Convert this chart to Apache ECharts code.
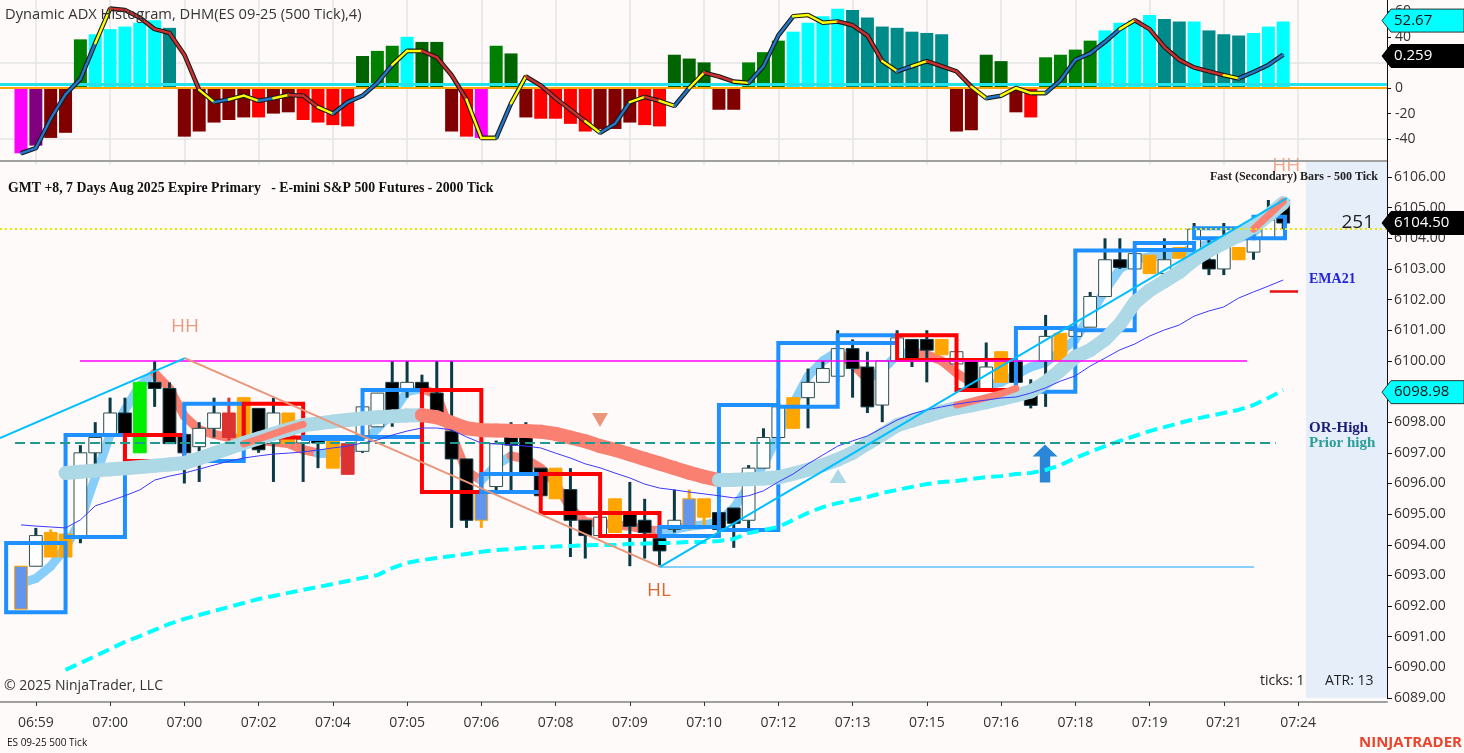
<!DOCTYPE html>
<html>
<head>
<meta charset="utf-8">
<title>Dynamic ADX Histogram - ES 09-25</title>
<script src="https://cdn.jsdelivr.net/npm/echarts@6.0.0/dist/echarts.min.js"></script>
<style>
html,body{margin:0;padding:0;background:#fffafa;overflow:hidden;}
#chart{width:1464px;height:753px;}
</style>
</head>
<body>
<div id="chart"></div>
<script>
// ================= DATA =================
const timeLabels = ['06:59','07:00','07:00','07:02','07:04','07:05','07:06','07:08','07:09','07:10','07:12','07:13','07:15','07:16','07:18','07:19','07:21','07:24'];
const timeTickIdx = [1,6,11,16,21,26,31,36,41,46,51,56,61,66,71,76,81,86];

// Dynamic ADX histogram (500 tick)
const dhmHist = [-51,-45,-39,-35,38,42,46,48,51,53,47,-38,-34,-27,-25,-23,-23,-20,-19,-25,-27,-29,-30,25,29,33,40,36,36,-34,-38,-39,33,27,-23,-24,-24,-28,-34,-32,-32,-27,-29,-30,26,23,20,-17,-17,20,28,37,44,51,56,62,61,55,48,47,44,43,42,-34,-33,26,21,-19,-23,24,26,30,37,45,51,53,57,54,52,52,45,42,41,43,48,52];
const dhmState = ['DA','DF','DW','DW','U','UA','UA','UA','UA','UA',
  'UF','DW','DW','DW','DW','DW','D','DW','DW','D',
  'D','D','D','UW','U','U','UA','UW','UW','DW',
  'D','DA','U','UW','DW','D','D','D','D','DW',
  'DW','DW','D','D','UW','UW','UW','DW','DW','U',
  'U','U','UA','UA','UA','UA','UF','UF','UF','UF',
  'UF','UF','UF','DW','DW','UW','UW','DW','D','U',
  'U','U','U','UA','UA','UA','UA','UF','UF','UA',
  'UF','UF','UF','UA','UA','UA'];
const dhmLine = [-51,-47,-24,-5,7,35,62,61,55,46,43,26,-1.5,-11,-9,-6,-10,-8,-5.5,-6,-15,-20,-11,-6,4,18,29,29,24,10,-9,-39,-39,-12,9,2,-8,-17,-26,-35,-28,-11,-7,-10,-14,0,12,9,5,4,17,41,56,57,51,52,49,41,21,13,17,21,17,13,1,-8,-6,0,-4,-4,6,22,27,36,46,53,46,32,22,16,13,10,7.5,12.5,18,26];
const dhmSignalLevel = 3.2;
const dhmBadges = [{value:52.67, text:'52.67'}, {value:25, text:'0.259'}];

// Price candles (500 tick)
const candleOpen  = [6091.9,6093.3,6093.6,6093.6,6094.3,6097.0,6097.6,6098.3,6097.0,6099.3,6099.1,6097.6,6097.2,6097.8,6098.3,6097.5,6098.45,6097.3,6097.3,6097.32,6097.45,6096.5,6097.3,6097.05,6097.85,6099.3,6099.1,6099.3,6098.95,6097.7,6096.8,6094.8,6095.9,6097.8,6097.8,6096.5,6095.5,6095.8,6094.8,6094.3,6094.4,6095.0,6094.8,6094.2,6094.5,6094.6,6094.9,6095.05,6095.2,6094.8,6096.5,6097.5,6097.8,6098.8,6099.3,6099.5,6100.4,6099.8,6098.56,6100.0,6100.7,6100.7,6100.2,6099.9,6100.0,6099.1,6099.3,6100.0,6098.95,6100.0,6100.0,6100.8,6101.1,6102.1,6103.3,6103.0,6102.85,6102.85,6103.35,6103.6,6103.3,6103.0,6103.3,6103.55,6104.0,6105.25];
const candleHigh  = [6093.3,6094.55,6094.5,6094.4,6097.25,6098.0,6098.8,6098.8,6099.3,6100.0,6099.3,6098.2,6098.0,6098.8,6098.8,6098.8,6098.45,6098.8,6098.3,6097.45,6097.5,6097.5,6097.3,6098.5,6098.95,6100.0,6100.0,6099.55,6100.0,6100.0,6096.8,6095.8,6097.4,6098.0,6098.0,6096.5,6096.5,6096.5,6094.8,6095.5,6095.5,6096.05,6095.5,6094.25,6095.8,6095.8,6095.5,6095.1,6095.2,6096.6,6097.8,6099.05,6098.8,6099.75,6100.0,6101.0,6100.7,6100.3,6100.0,6101.0,6100.7,6101.0,6100.7,6100.4,6100.0,6100.6,6100.3,6100.0,6099.4,6101.5,6100.9,6101.56,6102.25,6104.0,6104.0,6103.6,6103.45,6104.0,6103.7,6104.5,6104.0,6104.5,6103.7,6104.1,6105.25,6105.3];
const candleLow   = [6091.9,6093.3,6093.6,6093.6,6094.05,6096.6,6097.6,6097.6,6097.0,6098.5,6097.3,6096.0,6096.05,6097.5,6097.4,6097.5,6097.0,6096.05,6097.3,6096.05,6096.5,6096.5,6096.3,6097.0,6097.85,6097.85,6098.8,6099.1,6098.3,6094.55,6094.55,6094.55,6095.7,6095.7,6096.3,6095.5,6095.5,6093.6,6093.55,6094.3,6094.4,6093.3,6093.55,6093.33,6094.4,6094.5,6094.6,6094.4,6093.9,6094.4,6096.5,6097.5,6097.8,6097.8,6099.3,6099.3,6098.8,6098.3,6098.0,6100.0,6099.8,6099.3,6100.2,6099.8,6099.0,6099.1,6099.3,6099.3,6098.45,6098.5,6100.0,6100.8,6101.1,6102.1,6103.0,6103.0,6102.85,6102.65,6103.35,6103.3,6102.8,6102.8,6103.3,6103.3,6104.0,6104.3];
const candleClose = [6093.3,6094.3,6094.4,6094.35,6097.0,6097.5,6098.3,6097.6,6099.3,6099.1,6097.3,6097.0,6097.8,6098.3,6097.5,6098.8,6097.1,6098.3,6098.3,6097.45,6097.32,6097.5,6096.3,6098.5,6098.95,6098.3,6099.3,6099.1,6098.3,6096.8,6094.8,6095.7,6097.3,6097.25,6096.35,6095.6,6096.5,6094.8,6094.3,6094.9,6095.5,6094.6,6094.4,6093.8,6094.8,6095.5,6095.5,6094.5,6094.7,6096.5,6097.5,6098.5,6098.8,6099.3,6099.75,6100.4,6099.75,6098.5,6100.0,6100.75,6100.0,6100.35,6100.7,6100.3,6099.1,6099.8,6100.3,6099.3,6098.55,6100.8,6100.9,6101.0,6102.1,6103.3,6103.05,6103.5,6103.45,6103.3,6103.7,6104.3,6103.0,6104.0,6103.7,6104.0,6104.6,6104.5];
// N normal, O orange signal, R red signal, G green, C secondary-bar highlight
const candleKind  = ['C','N','O','O','N','N','N','N','G','N','N','N','N','N','R','O','N','N','O','N','N','O','R','N','N','N','N','N','N','N','N','C','N','N','N','N','O','N','N','N','O','N','N','N','N','C','O','N','N','N','N','N','O','N','N','N','N','N','N','N','N','N','O','N','N','N','O','N','N','N','O','N','N','N','N','N','O','N','O','N','N','N','O','N','N','N'];

// Indicators on price panel
const maSlow = [null,null,null,6096.34,6096.38,6096.42,6096.46,6096.5,6096.54,6096.58,6096.62,6096.67,6096.82,6096.98,6097.15,6097.32,6097.47,6097.62,6097.76,6097.9,6097.96,6098.02,6098.07,6098.12,6098.16,6098.19,6098.22,6098.23,6098.16,6097.98,6097.8,6097.74,6097.73,6097.72,6097.71,6097.69,6097.62,6097.5,6097.38,6097.22,6097.1,6096.95,6096.8,6096.65,6096.5,6096.35,6096.22,6096.11,6096.12,6096.14,6096.16,6096.2,6096.32,6096.45,6096.6,6096.78,6097.0,6097.3,6097.6,6097.9,6098.05,6098.2,6098.35,6098.46,6098.55,6098.65,6098.76,6098.87,6099.0,6099.3,6099.7,6100.13,6100.35,6100.7,6101.2,6101.9,6102.3,6102.6,6102.9,6103.3,6103.6,6103.85,6104.1,6104.37,6104.75,6105.15];
const maFast = [6092.75,6092.9,6093.3,6093.9,6094.8,6096.2,6097.6,6098.4,6099.2,6099.6,6099.1,6098.2,6097.75,6097.6,6097.5,6097.45,6097.4,6097.35,6097.3,6097.1,6097.0,6097.0,6097.05,6097.3,6097.8,6098.3,6099.0,6099.1,6098.9,6097.6,6096.4,6096.1,6096.6,6096.9,6096.8,6096.5,6096.0,6095.2,6094.75,6094.7,6094.65,6094.6,6094.5,6094.45,6094.5,6094.6,6094.65,6094.75,6095.2,6095.9,6096.6,6097.6,6098.6,6099.5,6100.0,6100.3,6099.9,6099.4,6099.7,6100.2,6100.3,6100.2,6100.0,6099.6,6099.3,6099.2,6099.3,6099.55,6099.8,6099.95,6100.3,6100.7,6101.5,6102.3,6103.0,6103.3,6103.4,6103.45,6103.5,6103.7,6103.8,6103.9,6104.0,6104.2,6104.6,6105.1];
const ema21 = [6094.65,6094.61,6094.58,6094.55,6094.81,6095.27,6095.43,6095.6,6095.79,6096.11,6096.24,6096.34,6096.47,6096.6,6096.73,6096.83,6096.9,6096.96,6096.99,6097.03,6097.09,6097.16,6097.22,6097.32,6097.42,6097.58,6097.71,6097.81,6097.81,6097.75,6097.52,6097.32,6097.29,6097.26,6097.22,6097.16,6096.99,6096.83,6096.64,6096.51,6096.34,6096.18,6095.98,6095.85,6095.79,6095.72,6095.66,6095.6,6095.53,6095.6,6095.76,6096.05,6096.31,6096.64,6096.93,6097.22,6097.39,6097.55,6097.81,6098.07,6098.27,6098.4,6098.5,6098.59,6098.66,6098.72,6098.79,6098.82,6098.95,6099.12,6099.34,6099.51,6099.83,6100.09,6100.36,6100.55,6100.81,6101.01,6101.17,6101.46,6101.63,6101.76,6102.05,6102.25,6102.44,6102.64];
const lowerBand = [null,null,null,6089.92,6090.14,6090.37,6090.6,6090.83,6091.02,6091.22,6091.42,6091.58,6091.71,6091.84,6091.97,6092.1,6092.23,6092.33,6092.43,6092.53,6092.62,6092.72,6092.82,6092.92,6093.01,6093.24,6093.41,6093.5,6093.57,6093.63,6093.7,6093.77,6093.83,6093.86,6093.9,6093.93,6093.94,6093.96,6093.98,6093.99,6093.99,6094.03,6094.04,6094.06,6094.06,6094.09,6094.09,6094.12,6094.19,6094.38,6094.48,6094.58,6094.81,6095.04,6095.23,6095.36,6095.46,6095.56,6095.69,6095.79,6095.89,6095.98,6096.05,6096.08,6096.15,6096.21,6096.24,6096.31,6096.34,6096.44,6096.6,6096.83,6097.03,6097.22,6097.39,6097.55,6097.71,6097.84,6097.97,6098.1,6098.2,6098.3,6098.4,6098.56,6098.79,6099.05];
const trendOverlay = (function(){ const a = new Array(86).fill(null);
  [[15,6097.29],[16,6097.45],[17,6097.62],[18,6097.78],[19,6097.93],
   [63,6098.56],[64,6098.68],[65,6098.8],[66,6098.93],[67,6099.1],
   [83,6104.3],[84,6104.75],[85,6105.2]].forEach(p => a[p[0]] = p[1]); return a; })();

// Primary 2000-tick bars (drawn as boxes), each spans 4 secondary bars
const bar2000Open  = [6091.8,6094.25,6097.58,6096.73,6098.6,6097.45,6097.52,6099.05,6095.72,6096.31,6095.04,6094.29,6094.48,6098.5,6100.58,6100.84,6100.03,6098.99,6101.0,6103.62,6104.0,6104.0];
const bar2000Close = [6094.06,6097.58,6096.73,6098.6,6097.5,6097.52,6099.05,6095.72,6096.31,6095.04,6094.29,6094.58,6098.56,6100.58,6100.84,6100.03,6099.05,6101.07,6103.6,6103.85,6104.33,6104.7];
const lastBarEnd = 85.12;

// Levels and swings
const levelPriorHigh = 6100.0, levelPriorHighSpan = [3.97, 82.56];
const levelOrHigh = 6097.32, levelOrHighSpan = [-0.4, 84.5];
const levelLastTrade = 6104.3;
const levelSwingLow = 6093.27, levelSwingLowSpan = [43.03, 83.03];
const levelEmaTag = 6102.28, levelEmaTagSpan = [84.1, 86.0];
const swingStart = [-1.414, 6097.48], swingHH = [11.04, 6100.09], swingHL = [43.03, 6093.28], swingEnd = [85.25, 6105.31];
const labelHH = [11.04, 6101.11], labelHL = [42.96, 6092.49], labelHH2 = [85.2, 6106.36];
const sigDown = [38.99, 6098.07], sigUp = [55.02, 6096.24], arrowUp = [68.96, 6096.65];
const futureZoneStart = 86.53;
const priceBadges = [{value:6104.5, text:'6104.50', dark:true}, {value:6098.98, text:'6098.98', dark:false}];

// ================= CHART =================
const X_MIN = -1.414, X_MAX = 91.99;
const SANS = '"Open Sans", "Noto Sans", sans-serif';
const SERIF = '"Liberation Serif", "DejaVu Serif", serif';
const stateColor = {UA:'#00ffff', UF:'#008b8b', U:'#008000', UW:'#006400', D:'#ff0000', DW:'#800000', DA:'#ff00ff', DF:'#800080'};

function segs(vals, up, dn) {
  const out = [];
  for (let i = 0; i < vals.length - 1; i++) {
    if (vals[i] == null || vals[i+1] == null) continue;
    out.push({coords: [[i, vals[i]], [i+1, vals[i+1]]], lineStyle: {color: vals[i+1] >= vals[i] ? up : dn}});
  }
  return out;
}
function dhmSegs(vals) {
  const out = [];
  for (let i = 0; i < vals.length - 1; i++) {
    const d = vals[i+1] - vals[i];
    const dn = i + 2 < vals.length ? vals[i+2] - vals[i+1] : d;
    let col = d >= 0 ? '#2277cc' : '#cc3030';
    if (Math.sign(d) !== Math.sign(dn) || d === 0) col = '#ffff00';
    out.push({coords: [[i, vals[i]], [i+1, vals[i+1]]], lineStyle: {color: col}});
  }
  return out;
}

function renderCandle(params, api) {
  const i = api.value(0), o = api.value(1), c = api.value(2), l = api.value(3), h = api.value(4);
  const k = candleKind[params.dataIndex];
  const pO = api.coord([i, o]), pC = api.coord([i, c]), pL = api.coord([i, l]), pH = api.coord([i, h]);
  const w = api.size([1, 0])[0] * 0.86;
  const up = c >= o;
  let fill, stroke, wick;
  if (k === 'O') { fill = '#ffa500'; stroke = '#ffa500'; wick = '#ffa500'; }
  else if (k === 'R') { fill = '#dc3232'; stroke = '#dc3232'; wick = '#dc3232'; }
  else if (k === 'G') { fill = '#00ee00'; stroke = '#00ee00'; wick = '#00cc00'; }
  else if (k === 'C') { fill = '#6495ed'; stroke = '#ffa500'; wick = '#ffa500'; }
  else if (up) { fill = '#ffffff'; stroke = '#2f4f4f'; wick = '#0b3a47'; }
  else { fill = '#000000'; stroke = '#0b3a47'; wick = '#0b3a47'; }
  const top = Math.min(pO[1], pC[1]);
  const bh = Math.max(1.5, Math.abs(pO[1] - pC[1]));
  return {type: 'group', children: [
    {type: 'rect', shape: {x: pO[0] - 1.5, y: pH[1], width: 3, height: Math.max(1, pL[1] - pH[1])}, style: {fill: wick}},
    {type: 'rect', shape: {x: pO[0] - w / 2, y: top, width: w, height: bh}, style: {fill: fill, stroke: stroke, lineWidth: 1}}
  ]};
}
function renderBox(params, api) {
  const s = api.value(0), e = api.value(1), o = api.value(2), c = api.value(3);
  const p1 = api.coord([s, Math.max(o, c)]), p2 = api.coord([e, Math.min(o, c)]);
  return {type: 'rect', shape: {x: p1[0], y: p1[1], width: p2[0] - p1[0], height: Math.max(2, p2[1] - p1[1])},
    style: {fill: 'none', stroke: c >= o ? '#1e90ff' : '#ff0000', lineWidth: 4}};
}

const chart = echarts.init(document.getElementById('chart'), null, {renderer: 'canvas'});

const option = {
  animation: false,
  backgroundColor: '#fffafa',
  textStyle: {fontFamily: SANS},
  grid: [
    {left: 0, right: 77, top: 0, height: 164.8, outerBoundsMode: 'none', containLabel: false},
    {left: 0, right: 77, top: 162, height: 536, outerBoundsMode: 'none', containLabel: false}
  ],
  xAxis: [
    {type: 'value', gridIndex: 0, min: X_MIN, max: X_MAX, show: false, splitLine: {show: false},
      axisLine: {onZero: false}},
    {type: 'value', gridIndex: 1, min: X_MIN, max: X_MAX, position: 'bottom', offset: 4,
      axisLine: {show: true, onZero: false, lineStyle: {color: '#a0a0a0', width: 2}},
      axisTick: {show: true, customValues: timeTickIdx, length: 4, lineStyle: {color: '#333'}},
      axisLabel: {show: true, customValues: timeTickIdx, fontSize: 14, color: '#333', margin: 14, fontFamily: SANS,
        formatter: v => { const j = timeTickIdx.indexOf(Math.round(v)); return j >= 0 ? timeLabels[j] : ''; }},
      splitLine: {show: false}}
  ],
  yAxis: [
    {type: 'value', gridIndex: 0, position: 'right', min: -60, max: 68.75, interval: 20,
      axisLine: {show: true, onZero: false, lineStyle: {color: '#111', width: 1}},
      axisTick: {show: true, length: 4, lineStyle: {color: '#111'}},
      axisLabel: {fontSize: 14, color: '#333', margin: 8, showMinLabel: false, showMaxLabel: false, fontFamily: SANS},
      splitLine: {show: false}},
    {type: 'value', gridIndex: 1, position: 'right', min: 6089, max: 6106.49, interval: 1,
      axisLine: {show: true, onZero: false, lineStyle: {color: '#111', width: 1}},
      axisTick: {show: true, length: 5, lineStyle: {color: '#111'}},
      axisLabel: {fontSize: 14, color: '#333', margin: 7, showMaxLabel: false, fontFamily: SANS, formatter: v => v.toFixed(2)},
      splitLine: {show: false}}
  ],
  series: [
    // ---- top panel ----
    {type: 'lines', name: 'grid', coordinateSystem: 'cartesian2d', xAxisIndex: 0, yAxisIndex: 0, z: 1, silent: true,
      lineStyle: {color: '#e4e4e4', width: 1.5, opacity: 1},
      data: timeTickIdx.map(t => ({coords: [[t, -60], [t, 68.75]]}))
        .concat([20, -40].map(v => ({coords: [[X_MIN, v], [X_MAX, v]]})))},
    {type: 'bar', name: 'DHM', xAxisIndex: 0, yAxisIndex: 0, z: 2, barWidth: 13,
      data: dhmHist.map((v, i) => [i, v]),
      itemStyle: {color: p => stateColor[dhmState[p.dataIndex]]}},
    {type: 'lines', name: 'zero', coordinateSystem: 'cartesian2d', xAxisIndex: 0, yAxisIndex: 0, z: 3, silent: true,
      data: [
        {coords: [[X_MIN, dhmSignalLevel], [X_MAX, dhmSignalLevel]], lineStyle: {color: '#22e2ea', width: 3}},
        {coords: [[X_MIN, 0], [X_MAX, 0]], lineStyle: {color: '#ffa500', width: 2}}
      ], lineStyle: {opacity: 1}},
    {type: 'line', name: 'DHM line outline', xAxisIndex: 0, yAxisIndex: 0, z: 4, symbol: 'none',
      data: dhmLine.map((v, i) => [i, v]), lineStyle: {color: '#1a1a1a', width: 4.6}},
    {type: 'lines', name: 'DHM line', coordinateSystem: 'cartesian2d', xAxisIndex: 0, yAxisIndex: 0, z: 5,
      data: dhmSegs(dhmLine), lineStyle: {width: 2.4, opacity: 1, cap: 'round'}},

    // ---- price panel ----
    {type: 'line', name: 'zone', xAxisIndex: 1, yAxisIndex: 1, z: 0, symbol: 'none', data: [[X_MAX, 6089]],
      lineStyle: {opacity: 0},
      markArea: {silent: true, itemStyle: {color: '#e6eefa'}, data: [[{xAxis: futureZoneStart}, {xAxis: X_MAX}]]}},
    {type: 'lines', name: 'fast', coordinateSystem: 'cartesian2d', xAxisIndex: 1, yAxisIndex: 1, z: 2,
      data: segs(maFast, '#87cefa', '#fa8072'), lineStyle: {width: 9, opacity: 1, cap: 'round'}},
    {type: 'custom', name: 'candles', xAxisIndex: 1, yAxisIndex: 1, z: 3, renderItem: renderCandle,
      encode: {x: 0, y: [1, 2, 3, 4]},
      data: candleOpen.map((o, i) => [i, o, candleClose[i], candleLow[i], candleHigh[i]])},
    {type: 'custom', name: 'bars2000', xAxisIndex: 1, yAxisIndex: 1, z: 4, renderItem: renderBox,
      encode: {x: [0, 1], y: [2, 3]},
      data: bar2000Open.map((o, k) => [-1 + 4 * k, Math.min(3 + 4 * k, lastBarEnd), o, bar2000Close[k]])},
    {type: 'lines', name: 'slow', coordinateSystem: 'cartesian2d', xAxisIndex: 1, yAxisIndex: 1, z: 5,
      data: segs(maSlow, '#add8e6', '#fa8072'), lineStyle: {width: 14, opacity: 1, cap: 'round'}},
    {type: 'line', name: 'overlay', xAxisIndex: 1, yAxisIndex: 1, z: 6, symbol: 'none', connectNulls: false,
      data: trendOverlay.map((v, i) => [i, v]), lineStyle: {color: '#fa8072', width: 7, cap: 'round'}},
    {type: 'line', name: 'EMA21', xAxisIndex: 1, yAxisIndex: 1, z: 7, symbol: 'none',
      data: ema21.map((v, i) => [i, v]), lineStyle: {color: '#3a3aff', width: 1}},
    {type: 'line', name: 'band', xAxisIndex: 1, yAxisIndex: 1, z: 7, symbol: 'none',
      data: lowerBand.map((v, i) => [i, v]), lineStyle: {color: '#00ffff', width: 4, type: [12, 6]}},
    {type: 'lines', name: 'levels', coordinateSystem: 'cartesian2d', xAxisIndex: 1, yAxisIndex: 1, z: 8, silent: true,
      lineStyle: {opacity: 1},
      data: [
        {coords: [[levelPriorHighSpan[0], levelPriorHigh], [levelPriorHighSpan[1], levelPriorHigh]], lineStyle: {color: '#ff00ff', width: 1.5}},
        {coords: [[levelOrHighSpan[0], levelOrHigh], [levelOrHighSpan[1], levelOrHigh]], lineStyle: {color: '#22998f', width: 2, type: [10, 5]}},
        {coords: [[X_MIN, levelLastTrade], [X_MAX, levelLastTrade]], lineStyle: {color: '#ece400', width: 2, type: [2, 3]}},
        {coords: [[levelSwingLowSpan[0], levelSwingLow], [levelSwingLowSpan[1], levelSwingLow]], lineStyle: {color: '#87cefa', width: 2}},
        {coords: [[levelEmaTagSpan[0], levelEmaTag], [levelEmaTagSpan[1], levelEmaTag]], lineStyle: {color: '#e81010', width: 2.5}}
      ]},
    {type: 'lines', name: 'swings', coordinateSystem: 'cartesian2d', xAxisIndex: 1, yAxisIndex: 1, z: 8, silent: true,
      lineStyle: {width: 2, opacity: 1},
      data: [
        {coords: [swingStart, swingHH], lineStyle: {color: '#00bfff'}},
        {coords: [swingHH, swingHL], lineStyle: {color: '#e9967a'}},
        {coords: [swingHL, swingEnd], lineStyle: {color: '#00bfff'}}
      ]},
    {type: 'line', name: 'marks', xAxisIndex: 1, yAxisIndex: 1, z: 9, symbol: 'none', data: [[X_MAX, 6089]],
      lineStyle: {opacity: 0},
      markPoint: {silent: true, data: [
        {coord: labelHH, symbol: 'rect', symbolSize: 1, itemStyle: {color: 'rgba(0,0,0,0)'},
          label: {show: true, position: 'inside', formatter: 'HH', color: '#eb9c80', fontSize: 19, fontFamily: SANS}},
        {coord: labelHL, symbol: 'rect', symbolSize: 1, itemStyle: {color: 'rgba(0,0,0,0)'},
          label: {show: true, position: 'inside', formatter: 'HL', color: '#d9692e', fontSize: 19, fontFamily: SANS}},
        {coord: labelHH2, symbol: 'rect', symbolSize: 1, itemStyle: {color: 'rgba(0,0,0,0)'},
          label: {show: true, position: 'inside', formatter: 'HH', color: '#f2a58a', fontSize: 19, fontFamily: SANS}},
        {coord: sigDown, symbol: 'triangle', symbolRotate: 180, symbolSize: [16, 14], itemStyle: {color: '#e9967a'}, label: {show: false}},
        {coord: sigUp, symbol: 'triangle', symbolSize: [17, 14], itemStyle: {color: '#add8e6'}, label: {show: false}},
        {coord: arrowUp, symbol: 'path://M12,0 L24,12 L17,12 L17,38 L7,38 L7,12 L0,12 Z', symbolSize: [25, 38],
          itemStyle: {color: '#2a86d6'}, label: {show: false}}
      ]}}
  ]
};
chart.setOption(option);

function badge(grid, value, text, dark) {
  const y = chart.convertToPixel({gridIndex: grid}, [0, value])[1];
  return {type: 'group', z: 100, children: [
    {type: 'polygon', z: 100, shape: {points: [[1382, y], [1391, y - 11.5], [1464, y - 11.5], [1464, y + 11.5], [1391, y + 11.5]]},
      style: {fill: dark ? '#000000' : '#00ffff', stroke: dark ? '#000000' : '#333333', lineWidth: 1}},
    {type: 'text', z: 101, x: 1394, y: y, style: {text: text, font: '15px ' + SANS, fill: dark ? '#ffffff' : '#111111',
      verticalAlign: 'middle', textVerticalAlign: 'middle'}}
  ]};
}
function txt(x, y, text, font, fill, align) {
  return {type: 'text', z: 50, x: x, y: y, style: {text: text, font: font, fill: fill,
    align: align || 'left', textAlign: align || 'left', verticalAlign: 'middle', textVerticalAlign: 'middle'}};
}
const lastPriceY = chart.convertToPixel({gridIndex: 1}, [0, priceBadges[0].value])[1];
const graphics = [
  {type: 'line', z: 40, shape: {x1: 0, y1: 161, x2: 1387, y2: 161}, style: {stroke: '#a0a0a0', lineWidth: 2}},
  txt(5, 15, 'Dynamic ADX Histogram, DHM(ES 09-25 (500 Tick),4)', '14.7px ' + SANS, '#333'),
  txt(8, 188, 'GMT +8, 7 Days Aug 2025 Expire Primary   - E-mini S&P 500 Futures - 2000 Tick', 'bold 13.8px ' + SERIF, '#111'),
  txt(1378, 177, 'Fast (Secondary) Bars - 500 Tick', 'bold 12px ' + SERIF, '#222', 'right'),
  txt(1309, 279, 'EMA21', 'bold 14px ' + SERIF, '#2323d8'),
  txt(1309, 428, 'OR-High', 'bold 15px ' + SERIF, '#1b1b78'),
  txt(1309, 443, 'Prior high', 'bold 15px ' + SERIF, '#2a9d97'),
  txt(1374, lastPriceY, '251', '19px ' + SANS, '#222', 'right'),
  txt(1260, 681, 'ticks: 1', '14px ' + SANS, '#222'),
  txt(1325, 681, 'ATR: 13', '14px ' + SANS, '#222'),
  txt(4, 686, '\u00a9 2025 NinjaTrader, LLC', '14px ' + SANS, '#333'),
  txt(7, 743, 'ES 09-25 500 Tick', '10px ' + SANS, '#111'),
  txt(1462, 743, 'NINJATRADER', 'bold 15px ' + SANS, '#e8452c', 'right')
];
dhmBadges.forEach((b, j) => graphics.push(badge(0, b.value, b.text, j === 1)));
priceBadges.forEach(b => graphics.push(badge(1, b.value, b.text, b.dark)));
chart.setOption({graphic: {elements: graphics}});
</script>
</body>
</html>
